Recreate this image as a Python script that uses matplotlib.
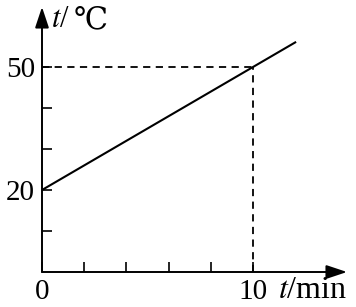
import matplotlib
matplotlib.use("Agg")
from matplotlib import pyplot as plt

# data
t_line = [0, 12]
temp_line = [20, 56]
t_mark, temp_mark = 10, 50
x_ticks = [0, 2, 4, 6, 8, 10]
x_labels = ['0', '', '', '', '', '10']
y_ticks = [10, 20, 30, 40, 50]
y_labels = ['', '20', '', '', '50']

plt.rcParams['font.family'] = ['Liberation Serif', 'DejaVu Serif']
plt.rcParams['mathtext.fontset'] = 'stix'

fig = plt.figure(figsize=(3.56, 3.07), dpi=100)
ax = fig.add_axes([42 / 356, 35 / 307, 310 / 356, 268 / 307])
ax.set_xlim(0, 310 / 21.1)
ax.set_ylim(0, 268 / 4.1)

for s in ax.spines.values():
    s.set_visible(False)

# axes with arrows
arrow = dict(arrowstyle='-|>,head_length=0.9,head_width=0.3', color='black',
             lw=1.4, shrinkA=0, shrinkB=0, mutation_scale=14)
ax.annotate('', xy=(305 / 21.1, 0), xytext=(0, 0), arrowprops=arrow, annotation_clip=False)
ax.annotate('', xy=(0, 265 / 4.1), xytext=(0, 0), arrowprops=arrow, annotation_clip=False)

ax.plot(t_line, temp_line, color='black', lw=1.5)
ax.plot([0, t_mark], [temp_mark, temp_mark], color='black', lw=1.3, ls=(0, (4, 3)))
ax.plot([t_mark, t_mark], [0, temp_mark], color='black', lw=1.3, ls=(0, (4, 3)))

ax.set_xticks(x_ticks, x_labels)
ax.set_yticks(y_ticks, y_labels)
ax.tick_params(direction='in', length=7, width=1.2, labelsize=21, pad=5)

ax.text(0.45, 61.5, '$t$/', fontsize=22, ha='left', va='center')
ax.text(1.5, 61.5, '℃', fontsize=22, ha='left', va='center',
        family=['DejaVu Serif', 'DejaVu Sans', 'Noto Sans CJK SC'])
ax.text(11.2, -4.4, '$t$/min', fontsize=23, ha='left', va='center', clip_on=False)

fig.savefig('out.png', dpi=100)
